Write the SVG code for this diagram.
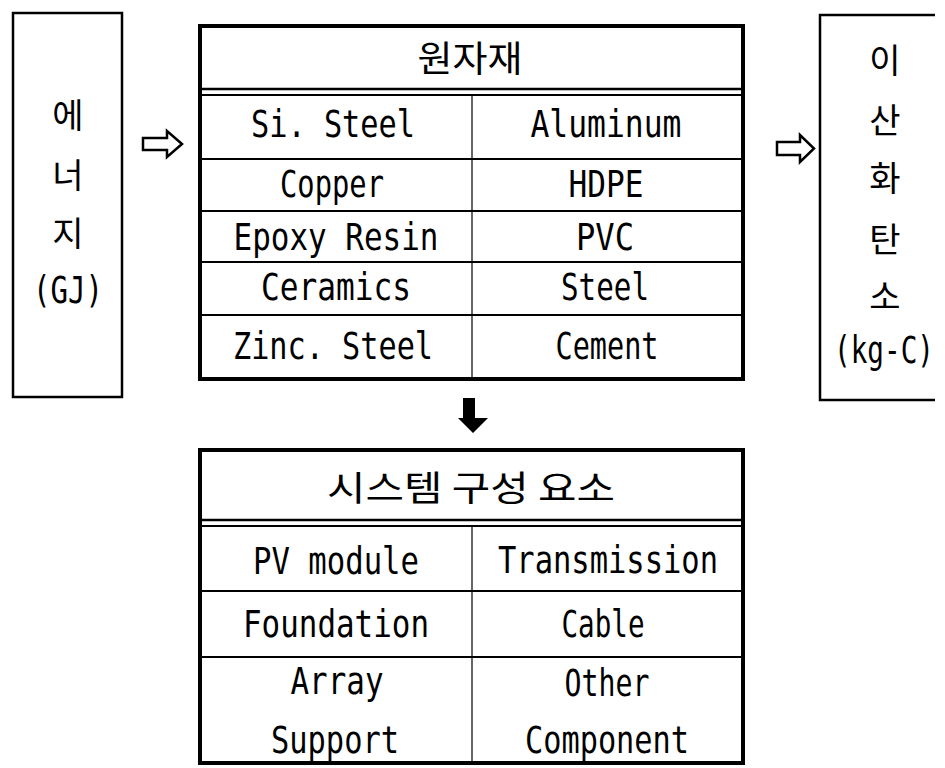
<svg xmlns="http://www.w3.org/2000/svg" width="945" height="768" viewBox="0 0 945 768">
<defs>
<style>
.bg{fill:#fff}
.box{fill:none;stroke:#000;stroke-width:2.5}
.outer{fill:none;stroke:#000;stroke-width:4}
.ln{stroke:#000;stroke-width:1.8;fill:none}
.dv{stroke:#000;stroke-width:1.2;fill:none}
.lat{font-family:"DejaVu Sans Mono","Liberation Mono",monospace;font-size:37px;fill:#000;text-anchor:middle}
.ko{font-family:"Noto Sans CJK KR",sans-serif;font-size:34px;fill:#000;text-anchor:middle}
.hol{fill:#fff;stroke:#000;stroke-width:2.5;stroke-linejoin:miter}
.sol{fill:#000;stroke:none}
</style>
</defs>
<rect class="bg" x="0" y="0" width="945" height="768"/>

<g id="energy">
<rect class="box" x="13" y="13" width="109" height="384"/>
<text class="ko" x="68" y="128">에</text>
<text class="ko" x="68" y="188">너</text>
<text class="ko" x="68" y="246">지</text>
<text class="lat" x="68" y="303" textLength="70" lengthAdjust="spacingAndGlyphs">(GJ)</text>
</g>

<g id="raw-materials">
<rect class="outer" x="200" y="26" width="543" height="353"/>
<line class="ln" x1="200" y1="89" x2="743" y2="89" style="stroke-width:2.5"/>
<line class="ln" x1="200" y1="95" x2="743" y2="95"/>
<line class="ln" x1="200" y1="159" x2="743" y2="159"/>
<line class="ln" x1="200" y1="211" x2="743" y2="211"/>
<line class="ln" x1="200" y1="262" x2="743" y2="262"/>
<line class="ln" x1="200" y1="315" x2="743" y2="315"/>
<line class="dv" x1="472" y1="95" x2="472" y2="379"/>
<text class="ko" x="470" y="72" style="font-size:36px" textLength="105" lengthAdjust="spacingAndGlyphs">원자재</text>
<text class="lat" x="333" y="137" textLength="164" lengthAdjust="spacingAndGlyphs">Si. Steel</text>
<text class="lat" x="332" y="197" textLength="104" lengthAdjust="spacingAndGlyphs">Copper</text>
<text class="lat" x="336" y="250" textLength="205" lengthAdjust="spacingAndGlyphs">Epoxy Resin</text>
<text class="lat" x="336" y="300" textLength="150" lengthAdjust="spacingAndGlyphs">Ceramics</text>
<text class="lat" x="333" y="359" textLength="200" lengthAdjust="spacingAndGlyphs">Zinc. Steel</text>
<text class="lat" x="606" y="137" textLength="151" lengthAdjust="spacingAndGlyphs">Aluminum</text>
<text class="lat" x="606" y="197" textLength="75" lengthAdjust="spacingAndGlyphs">HDPE</text>
<text class="lat" x="605" y="250" textLength="58" lengthAdjust="spacingAndGlyphs">PVC</text>
<text class="lat" x="605" y="300" textLength="88" lengthAdjust="spacingAndGlyphs">Steel</text>
<text class="lat" x="607" y="359" textLength="103" lengthAdjust="spacingAndGlyphs">Cement</text>
</g>

<g id="carbon">
<path class="box" d="M935 15 H820 V400 H935"/>
<text class="ko" x="885" y="73">이</text>
<text class="ko" x="885" y="133">산</text>
<text class="ko" x="885" y="191">화</text>
<text class="ko" x="885" y="252">탄</text>
<text class="ko" x="885" y="309">소</text>
<text class="lat" x="884" y="363" textLength="100" lengthAdjust="spacingAndGlyphs">(kg-C)</text>
</g>

<g id="system-components">
<rect class="outer" x="200" y="450" width="543" height="313"/>
<line class="ln" x1="200" y1="520" x2="743" y2="520" style="stroke-width:2.5"/>
<line class="ln" x1="200" y1="526" x2="743" y2="526"/>
<line class="ln" x1="200" y1="591" x2="743" y2="591"/>
<line class="ln" x1="200" y1="657" x2="743" y2="657"/>
<line class="dv" x1="472" y1="526" x2="472" y2="763"/>
<text class="ko" x="471" y="501" style="font-size:35px" textLength="288" lengthAdjust="spacingAndGlyphs">시스템 구성 요소</text>
<text class="lat" x="336" y="574" textLength="166" lengthAdjust="spacingAndGlyphs">PV module</text>
<text class="lat" x="336" y="637" textLength="186" lengthAdjust="spacingAndGlyphs">Foundation</text>
<text class="lat" x="337" y="694" textLength="93" lengthAdjust="spacingAndGlyphs">Array</text>
<text class="lat" x="335" y="753" textLength="128" lengthAdjust="spacingAndGlyphs">Support</text>
<text class="lat" x="608" y="573" textLength="220" lengthAdjust="spacingAndGlyphs">Transmission</text>
<text class="lat" x="603" y="637" textLength="83" lengthAdjust="spacingAndGlyphs">Cable</text>
<text class="lat" x="607" y="696" textLength="85" lengthAdjust="spacingAndGlyphs">Other</text>
<text class="lat" x="607" y="753" textLength="164" lengthAdjust="spacingAndGlyphs">Component</text>
</g>

<g id="connectors">
<polygon class="hol" points="143,138 167,138 167,131 182,144 167,157 167,150 143,150"/>
<polygon class="hol" points="777,142 800,142 800,135 814,148.5 800,162 800,155 777,155"/>
<polygon class="sol" points="463,398 475,398 475,418 488,418 473,433 458,418 463,418"/>
</g>
</svg>
